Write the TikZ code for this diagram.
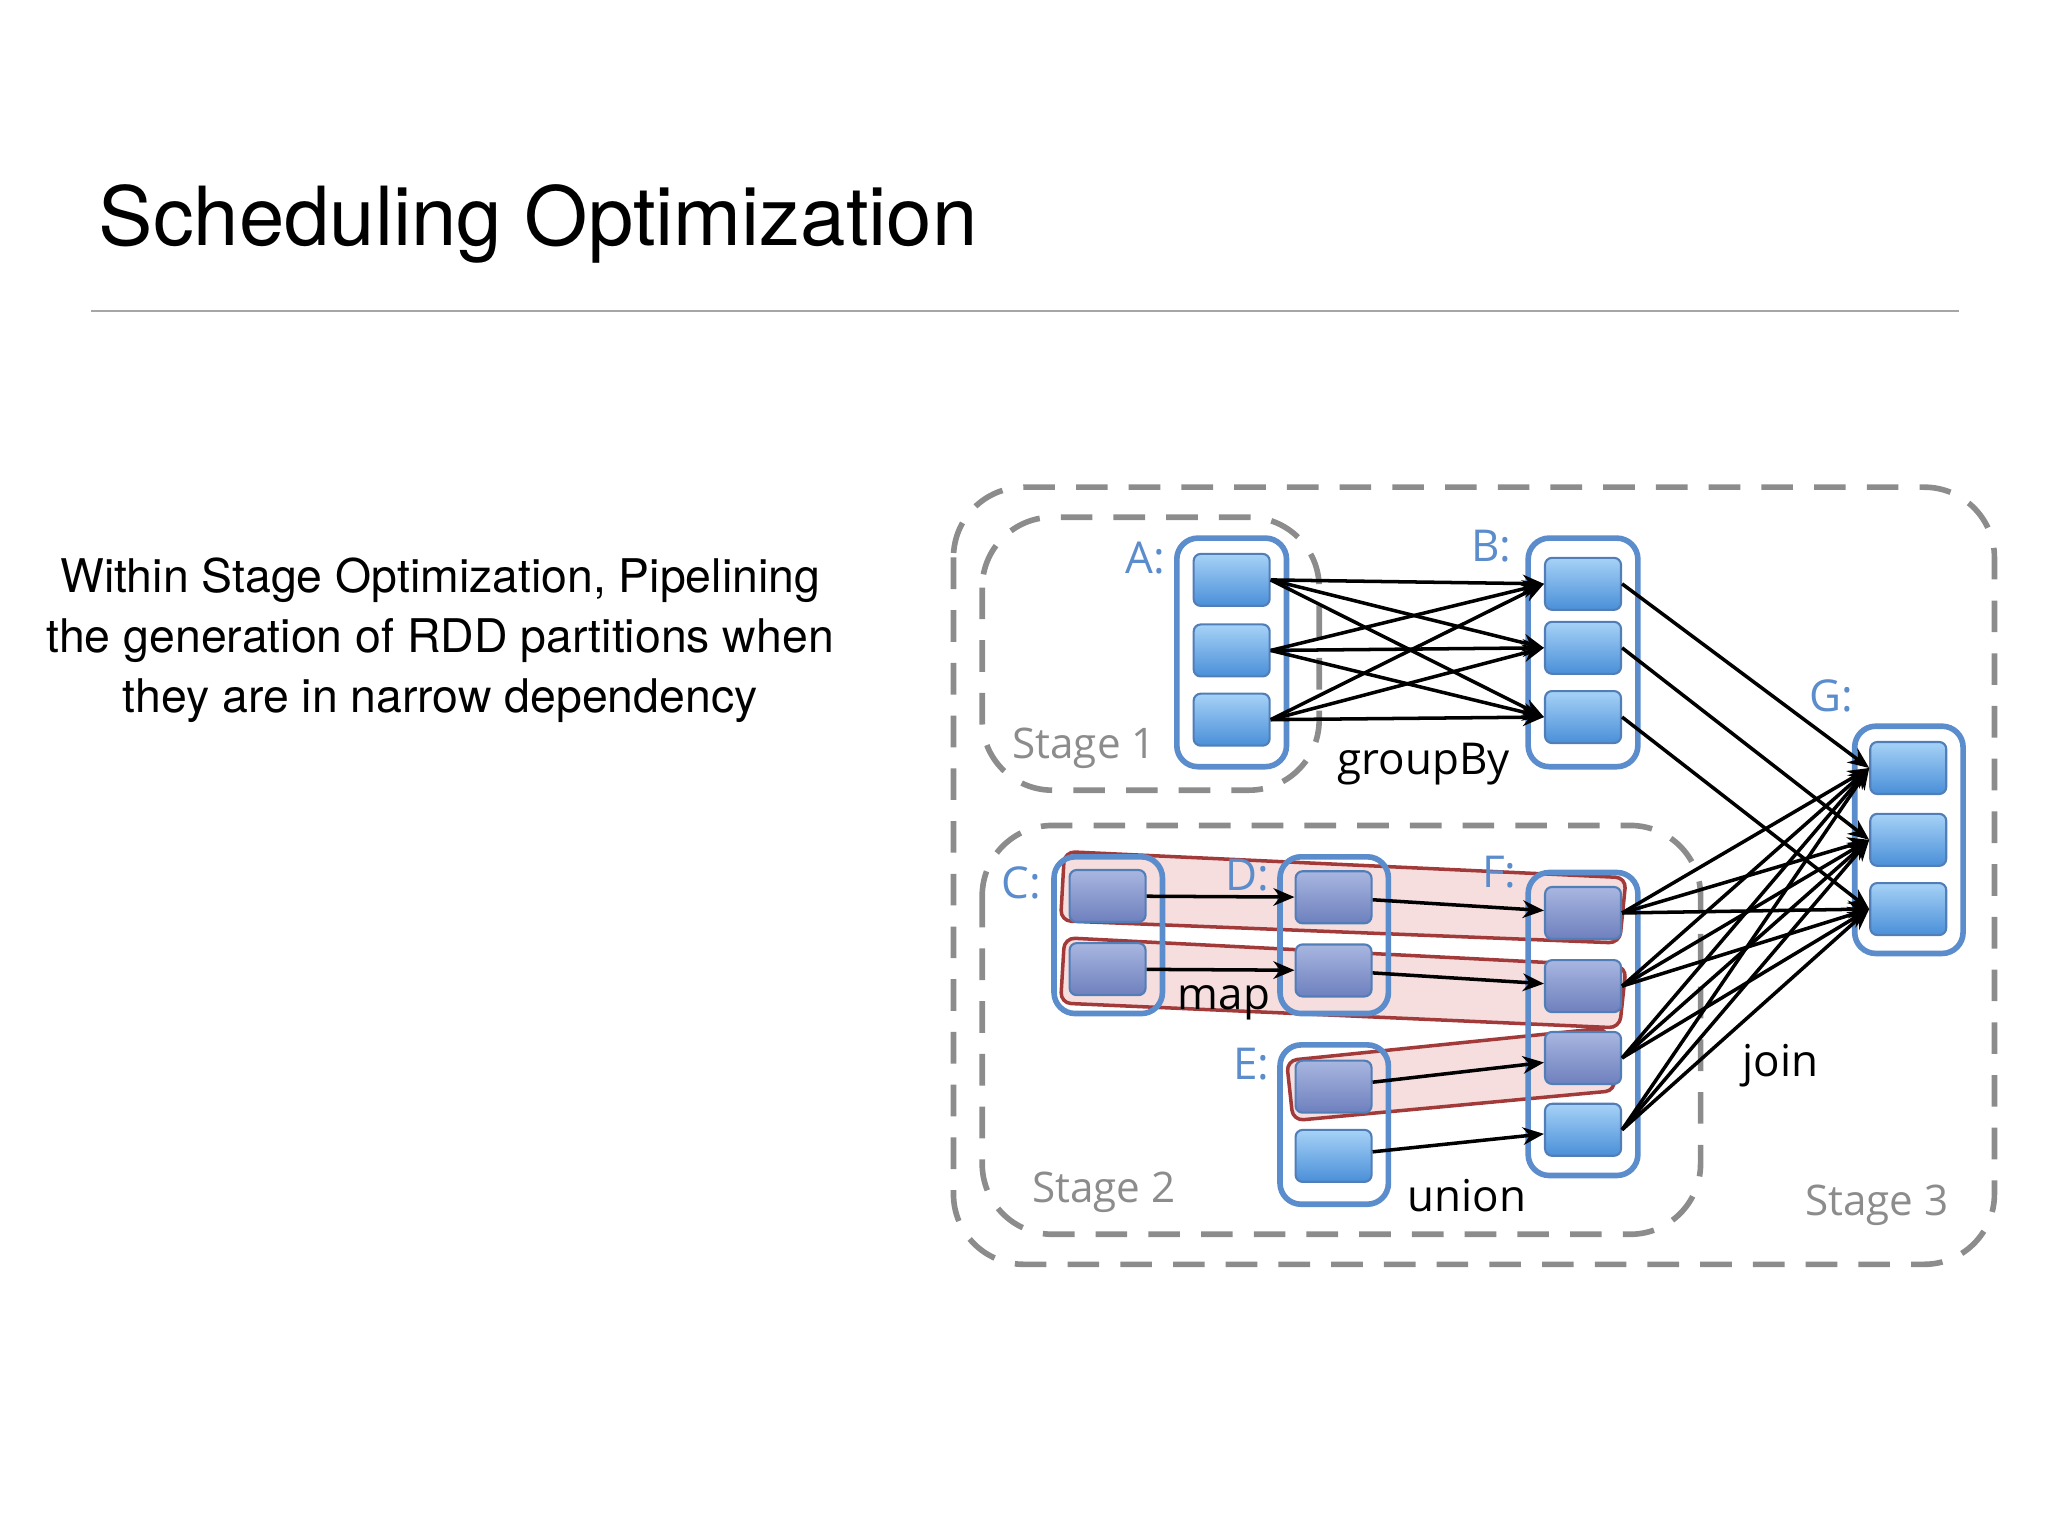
\documentclass[tikz,border=0pt]{standalone}
\usepackage{fontspec}
\setmainfont{TeX Gyre Heros}
\newfontfamily\stagefont{Open Sans}
\usetikzlibrary{arrows.meta}
\definecolor{rddblue}{HTML}{5B8CCC}
\definecolor{stagegray}{HTML}{8C8C8C}
\definecolor{pipered}{HTML}{A33A3A}
\definecolor{pipefill}{HTML}{F0C8C8}
\definecolor{parttop}{HTML}{A6D2F7}
\definecolor{partbot}{HTML}{4A8FD8}
\definecolor{ptop}{HTML}{A8B6E0}
\definecolor{pbot}{HTML}{6E80BE}
\tikzset{
  part/.style={draw=rddblue!90!black,line width=0.6pt,rounded corners=2pt,
    minimum width=0.76cm,minimum height=0.52cm,top color=parttop,bottom color=partbot},
  ppart/.style={part,top color=ptop,bottom color=pbot},
  rdd/.style={draw=rddblue,line width=1.6pt,rounded corners=6pt},
  stage/.style={draw=stagegray,line width=1.6pt,dashed,dash pattern=on 9pt off 6pt,rounded corners=20pt},
  stagelbl/.style={text=stagegray,font=\stagefont\fontsize{12}{14}\selectfont},
  rddlbl/.style={text=rddblue,font=\stagefont\fontsize{12.5}{14}\selectfont},
  oplbl/.style={font=\stagefont\fontsize{12.5}{14}\selectfont},
  dep/.style={-{Stealth[length=6pt,width=5pt]},line width=1pt},
  pipe/.style={draw=pipered,line width=1pt,fill=pipefill,fill opacity=0.6,rounded corners=3pt}
}
\begin{document}
\begin{tikzpicture}[x=0.013061cm,y=-0.013061cm]
  \useasboundingbox (0,0) rectangle (1568,1176);
  % title
  \node[anchor=base west,inner sep=0pt,font=\fontsize{23.2}{28}\selectfont] (title) at (75,188) {Scheduling Optimization};
  \draw[gray!70,line width=0.6pt] (70,238) -- (1500,238);
  \node[align=center,font=\fontsize{13.2}{17}\selectfont] (desc) at (337,490)
    {Within Stage Optimization, Pipelining\\the generation of RDD partitions when\\they are in narrow dependency};
  % stages
  \draw[stage] (730,373) rectangle (1527,968);
  \draw[stage] (752,396) rectangle (1010,605);
  \draw[stage] (752,632) rectangle (1302,945);
  \node[stagelbl] (s1) at (830,573) {Stage 1};
  \node[stagelbl] (s2) at (845,913) {Stage 2};
  \node[stagelbl] (s3) at (1437,923) {Stage 3};
  % pipelines
  \draw[pipe] (815,652) -- (1245,672) -- (1240,722) -- (812,705) -- cycle;
  \draw[pipe] (815,718) -- (1245,740) -- (1240,787) -- (812,768) -- cycle;
  \draw[pipe] (985,812) -- (1230,787) -- (1237,835) -- (990,858) -- cycle;
  % RDDs
  \draw[rdd] (901,412) rectangle (985,587);
  \draw[rdd] (1170,412) rectangle (1254,587);
  \draw[rdd] (1420,556) rectangle (1503,730);
  \draw[rdd] (807,656) rectangle (890,776);
  \draw[rdd] (980,656) rectangle (1063,776);
  \draw[rdd] (980,800) rectangle (1063,922);
  \draw[rdd] (1170,668) rectangle (1254,900);
  \foreach \i/\y in {1/444,2/498,3/551} \node[part] (a\i) at (943,\y) {};
  \foreach \i/\y in {1/447,2/496,3/549} \node[part] (b\i) at (1212,\y) {};
  \foreach \i/\y in {1/588,2/643,3/696} \node[part] (g\i) at (1461,\y) {};
  \foreach \i/\y in {1/686,2/742} \node[ppart] (c\i) at (848,\y) {};
  \foreach \i/\y in {1/687,2/743} \node[ppart] (d\i) at (1021,\y) {};
  \node[ppart] (e1) at (1021,832) {};
  \node[part] (e2) at (1021,885) {};
  \foreach \i/\y in {1/699,2/755,3/810} \node[ppart] (f\i) at (1212,\y) {};
  \node[part] (f4) at (1212,865) {};
  % labels
  \node[rddlbl] (la) at (877,427) {A:};
  \node[rddlbl] (lb) at (1142,418) {B:};
  \node[rddlbl] (lg) at (1402,533) {G:};
  \node[rddlbl] (lc) at (782,676) {C:};
  \node[rddlbl] (ld) at (955,670) {D:};
  \node[rddlbl] (le) at (958,815) {E:};
  \node[rddlbl] (lf) at (1148,668) {F:};
  \node[oplbl] (groupby) at (1090,585) {groupBy};
  \node[oplbl] (map) at (937,768) {map};
  \node[oplbl] (union) at (1123,915) {union};
  \node[oplbl] (join) at (1363,816) {join};
  % dependencies
  \foreach \i in {1,2,3} {
    \foreach \j in {1,2,3} \draw[dep] (a\i.east) -- (b\j.west);
    \draw[dep] (b\i.east) -- (g\i.west);
  }
  \foreach \i in {1,2,3,4} \foreach \j in {1,2,3} \draw[dep] (f\i.east) -- (g\j.west);
  \draw[dep] (c1) -- (d1);
  \draw[dep] (c2) -- (d2);
  \draw[dep] (d1) -- (f1);
  \draw[dep] (d2) -- (f2);
  \draw[dep] (e1) -- (f3);
  \draw[dep] (e2) -- (f4);
\end{tikzpicture}
\end{document}
